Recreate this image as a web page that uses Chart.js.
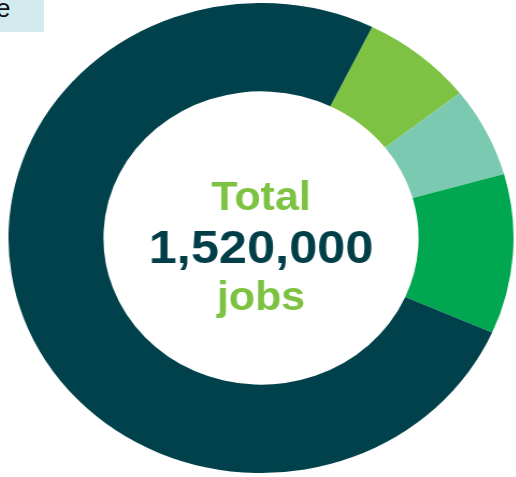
<!DOCTYPE html>
<html>
<head>
<meta charset="utf-8">
<script src="https://cdn.jsdelivr.net/npm/chart.js@4/dist/chart.umd.min.js"></script>
<style>
  html, body { margin: 0; padding: 0; background: #ffffff; width: 516px; height: 477px; overflow: hidden; }
  #tag { position: absolute; left: 0; top: 0; width: 44px; height: 32px; background: #D3EBEE; overflow: hidden; }
  #tag span { position: absolute; left: -4px; top: -5px; font: 26px/26px "Liberation Sans", Arial, sans-serif; color: #111; }
  #wrap { position: absolute; left: 25.5px; top: 3px; width: 470px; height: 470px; transform: scaleX(1.0745); transform-origin: 50% 50%; }
</style>
</head>
<body>
<div id="tag"><span>e</span></div>
<div id="wrap"><canvas id="c"></canvas></div>
<script>
// Data
const categories = ["Segment A", "Segment B", "Segment C", "Segment D"];
const jobs = [109000, 94000, 167000, 1150000];
const colors = ["#7DC242", "#7CC9B2", "#00A650", "#00414B"];
const centerLines = ["Total", "1,520,000", "jobs"];

const centerText = {
  id: "centerText",
  afterDraw(chart) {
    const meta = chart.getDatasetMeta(0);
    if (!meta.data.length) return;
    const cx = meta.data[0].x, cy = meta.data[0].y;
    const ctx = chart.ctx;
    ctx.save();
    ctx.textAlign = "center";
    ctx.textBaseline = "alphabetic";
    ctx.fillStyle = "#7DC242";
    ctx.font = "bold 40px 'Liberation Sans', Arial, sans-serif";
    ctx.fillText(centerLines[0], cx, cy - 28);
    ctx.fillStyle = "#003E48";
    ctx.font = "bold 47px 'Liberation Sans', Arial, sans-serif";
    ctx.fillText(centerLines[1], cx, cy + 25);
    ctx.fillStyle = "#7DC242";
    ctx.font = "bold 40px 'Liberation Sans', Arial, sans-serif";
    ctx.fillText(centerLines[2], cx, cy + 72);
    ctx.restore();
  }
};

new Chart(document.getElementById("c"), {
  type: "doughnut",
  data: {
    labels: categories,
    datasets: [{
      data: jobs,
      backgroundColor: colors,
      borderWidth: 0,
      hoverOffset: 0
    }]
  },
  options: {
    responsive: true,
    maintainAspectRatio: false,
    animation: false,
    rotation: 26.1,
    cutout: "62.4%",
    layout: { padding: 0 },
    plugins: { legend: { display: false }, tooltip: { enabled: false } }
  },
  plugins: [centerText]
});
</script>
</body>
</html>
